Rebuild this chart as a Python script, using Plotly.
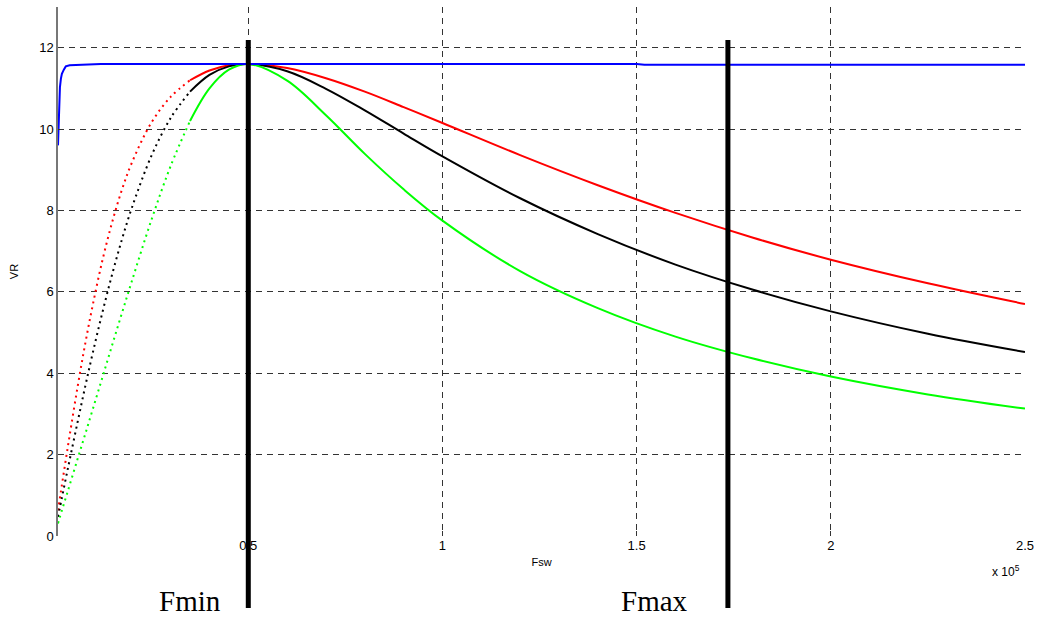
import plotly.graph_objects as go

# Switching frequency samples (Hz)
fsw = [1000, 2000, 3000, 4000, 6000, 8000, 10000, 12500, 15000, 17500, 20000,
       25000, 30000, 35000, 40000, 45000, 50000, 60000, 70000, 80000, 90000,
       100000, 120000, 140000, 160000, 180000, 200000, 225000, 250000]

vr_red = [0.63, 1.25, 1.87, 2.47, 3.64, 4.72, 5.70, 6.80, 7.73, 8.52, 9.17,
          10.15, 10.79, 11.20, 11.44, 11.57, 11.60, 11.50, 11.25, 10.92, 10.54,
          10.15, 9.36, 8.62, 7.94, 7.33, 6.79, 6.21, 5.70]
vr_black = [0.47, 0.94, 1.41, 1.87, 2.78, 3.67, 4.52, 5.52, 6.45, 7.30, 8.06,
            9.33, 10.27, 10.92, 11.33, 11.54, 11.60, 11.42, 10.99, 10.46, 9.89,
            9.33, 8.30, 7.42, 6.67, 6.05, 5.52, 4.97, 4.52]
vr_green = [0.31, 0.63, 0.94, 1.25, 1.88, 2.50, 3.13, 3.92, 4.71, 5.49, 6.26,
            7.75, 9.09, 10.20, 11.00, 11.46, 11.60, 11.19, 10.34, 9.39, 8.52,
            7.75, 6.51, 5.60, 4.90, 4.36, 3.92, 3.48, 3.13]

fsw_blue = [1000, 1250, 1500, 1750, 2000, 2500, 3000, 4000, 6000, 12000,
            150000, 152000, 250000]
vr_blue = [9.60, 10.62, 11.03, 11.24, 11.36, 11.46, 11.54, 11.57, 11.58, 11.60,
           11.60, 11.58, 11.58]

# Marker frequencies
f_markers = [50000, 173500]
f_marker_labels = ["Fmin", "Fmax"]

x_tickvals = [50000, 100000, 150000, 200000, 250000]
x_ticktext = ["0.5", "1", "1.5", "2", "2.5"]
y_tickvals = [0, 2, 4, 6, 8, 10, 12]

split = 35000  # rising part drawn dotted (sparse samples), rest solid

SANS = "Liberation Sans, Arial, sans-serif"
SERIF = "Liberation Serif, Times New Roman, serif"

fig = go.Figure()


def add_curve(vals, color):
    xr = [f for f in fsw if f <= split]
    yr = [v for f, v in zip(fsw, vals) if f <= split]
    xs = [f for f in fsw if f >= split]
    ys = [v for f, v in zip(fsw, vals) if f >= split]
    fig.add_trace(go.Scatter(x=xr, y=yr, mode="lines",
                             line=dict(color=color, width=2, dash="2px,4px", shape="spline"),
                             showlegend=False, hoverinfo="skip"))
    fig.add_trace(go.Scatter(x=xs, y=ys, mode="lines",
                             line=dict(color=color, width=2, shape="spline"),
                             showlegend=False, hoverinfo="skip"))


add_curve(vr_red, "#ff0000")
add_curve(vr_black, "#000000")
add_curve(vr_green, "#00ff00")

fig.add_trace(go.Scatter(x=fsw_blue, y=vr_blue, mode="lines",
                         line=dict(color="#0000ff", width=2),
                         showlegend=False, hoverinfo="skip"))

for f in f_markers:
    fig.add_shape(type="line", xref="x", yref="paper", x0=f, x1=f,
                  y0=-0.136, y1=0.9376, line=dict(color="black", width=5))

label_shifts = [-58, -73]
for f, lab, dx in zip(f_markers, f_marker_labels, label_shifts):
    fig.add_annotation(x=f, xref="x", xshift=dx, y=-0.157, yref="paper",
                       text=lab, showarrow=False,
                       font=dict(family=SERIF, size=29, color="black"),
                       xanchor="center", yanchor="bottom")

fig.add_annotation(x=1.0, xref="paper", xshift=-3, y=-0.068, yref="paper",
                   text="x 10<sup>5</sup>", showarrow=False,
                   font=dict(family=SANS, size=12, color="black"),
                   xanchor="right", yanchor="middle", yshift=1)

fig.update_xaxes(range=[1000, 250000], tickvals=x_tickvals, ticktext=x_ticktext,
                 automargin=False,
                 showgrid=True, gridcolor="#333333", griddash="6px,5px", gridwidth=1,
                 zeroline=False, showline=False,
                 ticks="inside", ticklen=5, tickcolor="#333333",
                 tickfont=dict(family=SANS, size=13, color="black"),
                 title=dict(text="Fsw", standoff=6,
                            font=dict(family=SANS, size=11, color="black")))
fig.update_yaxes(range=[0, 13], tickvals=y_tickvals,
                 automargin=False,
                 showgrid=True, gridcolor="#333333", griddash="6px,5px", gridwidth=1,
                 zeroline=False, showline=True, linecolor="#777777", linewidth=1.5,
                 ticks="inside", ticklen=5, tickcolor="#333333",
                 tickfont=dict(family=SANS, size=13, color="black"),
                 title=dict(text="VR", standoff=18,
                            font=dict(family=SANS, size=11, color="black")))

fig.update_layout(width=1037, height=619, plot_bgcolor="white", paper_bgcolor="white",
                  margin=dict(l=58, r=12, t=7, b=83), showlegend=False)

fig.write_html("out.html", config={"displayModeBar": False},
               post_script="document.body.style.margin='0';")
